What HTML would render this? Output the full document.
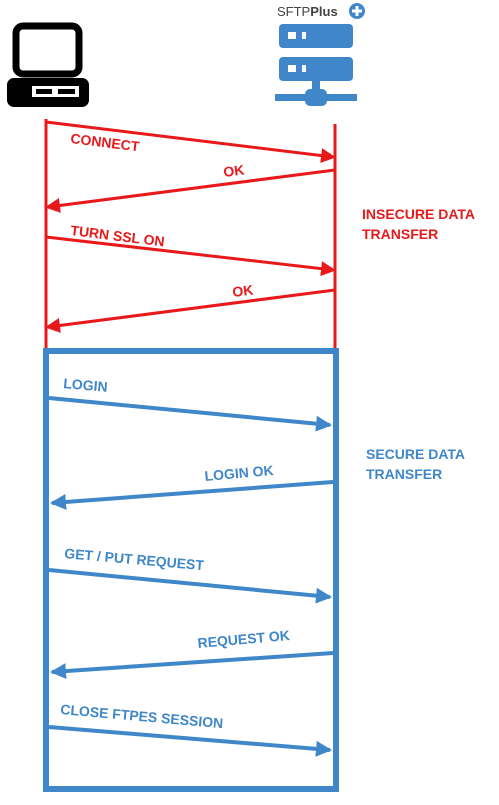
<!DOCTYPE html>
<html><head><style>
body{margin:0;width:499px;height:800px;background:#fff;overflow:hidden}
svg text{font-family:"Liberation Sans",sans-serif;font-weight:bold;font-size:14px}
</style></head><body>
<svg width="499" height="800" viewBox="0 0 499 800">
<defs>
<marker id="ar" markerWidth="5" markerHeight="5" refX="4" refY="2.5" orient="auto" markerUnits="strokeWidth"><path d="M0,0 L5,2.5 L0,5 z" fill="#e8191b"/></marker>
<marker id="ab" markerWidth="4" markerHeight="4" refX="3.5" refY="2" orient="auto" markerUnits="strokeWidth"><path d="M0,0 L4,2 L0,4 z" fill="#3f87c8"/></marker>
</defs>
<rect x="16" y="26" width="63" height="48" rx="7" fill="none" stroke="#000" stroke-width="7"/>
<rect x="7" y="78" width="82" height="29" rx="7" fill="#000"/>
<rect x="32" y="86" width="47" height="11" fill="#fff"/>
<rect x="36" y="89" width="16" height="5" fill="#000"/><rect x="58" y="89" width="17" height="5" fill="#000"/>
<text x="277" y="16" style="font-weight:normal;font-size:13px" fill="#444">SFTP<tspan style="font-weight:bold">Plus</tspan></text>
<circle cx="357" cy="11" r="8" fill="#3f87c8"/><path d="M357,6v10M352,11h10" stroke="#fff" stroke-width="3"/>
<rect x="279" y="24" width="74" height="24" rx="4" fill="#3f87c8"/>
<rect x="279" y="57" width="74" height="24" rx="4" fill="#3f87c8"/>
<rect x="288" y="32" width="8" height="7" fill="#fff"/><rect x="302" y="32" width="4" height="7" fill="#fff"/>
<rect x="288" y="65" width="8" height="7" fill="#fff"/><rect x="302" y="65" width="4" height="7" fill="#fff"/>
<rect x="312" y="81" width="8" height="12" fill="#3f87c8"/>
<rect x="275" y="94" width="82" height="7" fill="#3f87c8"/>
<rect x="305" y="89" width="22" height="17" rx="5" fill="#3f87c8"/>
<g stroke="#e8191b" stroke-width="3" fill="none">
<line x1="46" y1="119" x2="46" y2="350"/>
<line x1="335" y1="124" x2="335" y2="350"/>
<line x1="46" y1="122" x2="333" y2="157" marker-end="url(#ar)"/>
<line x1="335" y1="170" x2="48" y2="207" marker-end="url(#ar)"/>
<line x1="46" y1="237" x2="333" y2="270" marker-end="url(#ar)"/>
<line x1="335" y1="290" x2="48" y2="327" marker-end="url(#ar)"/>
</g>
<g fill="#e8191b">
<text x="70" y="143" transform="rotate(7 70 143)">CONNECT</text>
<text x="224" y="177" transform="rotate(-7 224 177)">OK</text>
<text x="70" y="235" transform="rotate(7 70 235)">TURN SSL ON</text>
<text x="233" y="297" transform="rotate(-7 233 297)">OK</text>
<text x="362" y="219">INSECURE DATA</text>
<text x="362" y="239">TRANSFER</text>
</g>
<rect x="46" y="351" width="290" height="438" fill="none" stroke="#3f87c8" stroke-width="6"/>
<g stroke="#3f87c8" stroke-width="4" fill="none">
<line x1="49" y1="398" x2="330" y2="425" marker-end="url(#ab)"/>
<line x1="333" y1="482" x2="52" y2="503" marker-end="url(#ab)"/>
<line x1="49" y1="570" x2="330" y2="597" marker-end="url(#ab)"/>
<line x1="333" y1="653" x2="52" y2="672" marker-end="url(#ab)"/>
<line x1="49" y1="727" x2="330" y2="750" marker-end="url(#ab)"/>
</g>
<g fill="#3f87c8">
<text x="63" y="388" transform="rotate(5 63 388)">LOGIN</text>
<text x="205" y="481" transform="rotate(-5 205 481)">LOGIN OK</text>
<text x="366" y="459">SECURE DATA</text>
<text x="366" y="479">TRANSFER</text>
<text x="64" y="558" transform="rotate(5 64 558)">GET / PUT REQUEST</text>
<text x="198" y="648" transform="rotate(-5 198 648)">REQUEST OK</text>
<text x="60" y="714" transform="rotate(5 60 714)">CLOSE FTPES SESSION</text>
</g>
</svg>
</body></html>
